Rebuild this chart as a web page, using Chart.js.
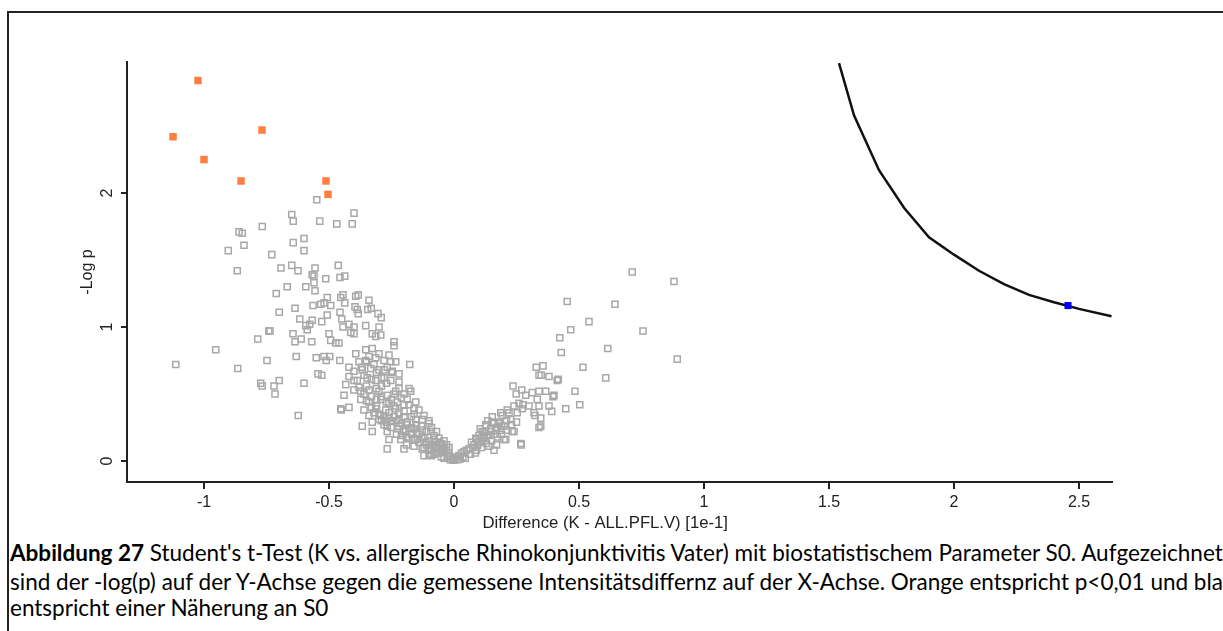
<!DOCTYPE html>
<html>
<head>
<meta charset="utf-8">
<script src="https://cdn.jsdelivr.net/npm/chart.js@4"></script>
<style>
  html, body { margin: 0; padding: 0; background: #fff; overflow: hidden; }
  body { width: 1223px; height: 631px; position: relative; }
  .frame-top { position: absolute; left: 7px; top: 11px; width: 1216px; height: 2px; background: #222; }
  .frame-left { position: absolute; left: 7px; top: 11px; width: 2px; height: 620px; background: #222; }
  #chart { position: absolute; left: 0; top: 0; }
  .cap { position: absolute; left: 10px; white-space: nowrap; font-family: Lato, "Open Sans", sans-serif;
         font-size: 22.5px; line-height: 28px; color: #000; }
</style>
</head>
<body>
<div class="frame-top"></div>
<div class="frame-left"></div>
<canvas id="chart" width="1223" height="535"></canvas>
<div class="cap" style="top:539px"><b>Abbildung 27</b> Student's t-Test (K vs. allergische Rhinokonjunktivitis Vater) mit biostatistischem Parameter S0. Aufgezeichnet</div>
<div class="cap" style="top:568px">sind der -log(p) auf der Y-Achse gegen die gemessene Intensitätsdiffernz auf der X-Achse. Orange entspricht p&lt;0,01 und blau</div>
<div class="cap" style="top:594px">entspricht einer Näherung an S0</div>
<script>
// tick values
const xTicks = [-1, -0.5, 0, 0.5, 1, 1.5, 2, 2.5];
const yTicks = [0, 1, 2];

// significant (p<0.01) points, [difference, -log p]
const orangePoints = [
  [-1.024, 2.84], [-1.124, 2.42], [-0.768, 2.47], [-1.0, 2.25],
  [-0.852, 2.09], [-0.512, 2.09], [-0.504, 1.99]
];

// point on the S0 curve
const bluePoint = [[2.456, 1.16]];

// S0 threshold curve
const s0CurveX = [1.54, 1.6, 1.7, 1.8, 1.9, 2.0, 2.1, 2.2, 2.3, 2.4, 2.5, 2.63];
const s0CurveY = [2.97, 2.58, 2.17, 1.89, 1.67, 1.54, 1.42, 1.32, 1.24, 1.185, 1.135, 1.08];

// all other proteins
const greyPoints = [
  [-0.549, 1.95], [-0.649, 1.84], [-0.643, 1.79], [-0.537, 1.79], [-0.469, 1.77], [-0.407, 1.77],
  [-0.40, 1.85], [-0.767, 1.75], [-0.86, 1.71], [-0.847, 1.70], [-0.84, 1.61], [-0.903, 1.57],
  [-0.643, 1.63], [-0.60, 1.66], [-0.60, 1.57], [-0.729, 1.54], [-0.867, 1.42], [-0.692, 1.44],
  [-0.649, 1.46], [-0.624, 1.42], [-0.556, 1.44], [-0.567, 1.39], [-0.56, 1.38], [-0.463, 1.46],
  [-0.513, 1.36], [-0.456, 1.37], [-0.437, 1.38], [-0.667, 1.30], [-0.593, 1.30], [-0.56, 1.33],
  [-0.556, 1.27], [-0.711, 1.25], [-0.507, 1.22], [-0.52, 1.18], [-0.444, 1.24], [-0.453, 1.22],
  [-0.393, 1.23], [-0.383, 1.24], [-0.34, 1.20], [-0.564, 1.16], [-0.533, 1.17], [-0.493, 1.16],
  [-0.437, 1.18], [-0.396, 1.15], [-0.387, 1.13], [-0.383, 1.10], [-0.345, 1.13], [-0.331, 1.14],
  [-0.304, 1.10], [-0.291, 1.07], [-0.636, 1.14], [-0.699, 1.11], [-0.617, 1.06], [-0.567, 1.05],
  [-0.529, 1.04], [-0.507, 1.09], [-0.456, 1.11], [-0.449, 1.06], [-0.444, 1.00], [-0.593, 1.01],
  [-0.577, 1.02], [-0.587, 0.98], [-0.42, 1.02], [-0.40, 1.00], [-0.413, 0.96], [-0.40, 0.95],
  [-0.353, 1.01], [-0.30, 1.00], [-0.741, 0.97], [-0.736, 0.97], [-0.785, 0.91], [-0.644, 0.95],
  [-0.636, 0.89], [-0.611, 0.91], [-0.569, 0.89], [-0.50, 0.95], [-0.493, 0.90], [-0.473, 0.88],
  [-0.46, 0.88], [-0.327, 0.95], [-0.313, 0.93], [-0.293, 0.94], [-0.24, 0.89], [-0.24, 0.86],
  [-0.953, 0.83], [-1.113, 0.72], [-0.748, 0.75], [-0.865, 0.69], [-0.631, 0.78], [-0.551, 0.77],
  [-0.52, 0.78], [-0.511, 0.75], [-0.497, 0.78], [-0.457, 0.75], [-0.177, 0.72], [-0.773, 0.58],
  [-0.767, 0.56], [-0.72, 0.56], [-0.716, 0.50], [-0.699, 0.60], [-0.60, 0.58], [-0.544, 0.65],
  [-0.529, 0.64], [-0.623, 0.34], [-0.451, 0.38], [-0.42, 0.40],
  [-0.393, 0.80], [-0.353, 0.83], [-0.327, 0.84], [-0.30, 0.80], [-0.42, 0.70], [-0.38, 0.74],
  [-0.353, 0.75], [-0.313, 0.77], [-0.28, 0.75], [-0.253, 0.74], [-0.233, 0.74],
  [-0.40, 0.67], [-0.367, 0.68], [-0.333, 0.69], [-0.30, 0.68], [-0.267, 0.70], [-0.247, 0.67],
  [-0.42, 0.63], [-0.387, 0.60], [-0.347, 0.62], [-0.313, 0.60], [-0.28, 0.62], [-0.253, 0.60],
  [-0.22, 0.59], [-0.433, 0.57], [-0.18, 0.54], [-0.173, 0.52],
  [-0.44, 0.49], [-0.40, 0.53], [-0.373, 0.52], [-0.34, 0.53], [-0.30, 0.52], [-0.267, 0.49],
  [-0.233, 0.52], [-0.20, 0.50], [-0.373, 0.46], [-0.34, 0.44], [-0.293, 0.46], [-0.26, 0.43],
  [-0.227, 0.44], [-0.187, 0.46], [-0.153, 0.44], [-0.453, 0.39], [-0.36, 0.38], [-0.313, 0.39],
  [-0.273, 0.38], [-0.233, 0.39], [-0.20, 0.37], [-0.16, 0.39],
  [-0.34, 0.34], [-0.293, 0.34], [-0.26, 0.32], [-0.22, 0.31], [-0.187, 0.29], [-0.153, 0.31],
  [-0.127, 0.31], [-0.10, 0.28], [-0.367, 0.26], [-0.327, 0.29], [-0.327, 0.22], [-0.267, 0.26],
  [-0.227, 0.24], [-0.193, 0.23], [-0.16, 0.24], [-0.127, 0.23], [-0.093, 0.22], [-0.267, 0.22],
  [-0.26, 0.16], [-0.267, 0.09], [-0.213, 0.16], [-0.18, 0.17], [-0.147, 0.16], [-0.113, 0.14],
  [-0.08, 0.16], [-0.20, 0.09], [-0.16, 0.11], [-0.127, 0.09], [-0.10, 0.05], [-0.073, 0.11],
  [-0.047, 0.08], [-0.027, 0.03], [-0.007, 0.01],
  [-0.06, 0.14], [-0.04, 0.09], [-0.02, 0.04], [0.0, 0.02], [0.02, 0.04], [0.04, 0.07],
  [0.06, 0.09], [0.08, 0.12], [0.087, 0.17], [0.10, 0.14], [0.12, 0.17], [0.113, 0.22],
  [0.127, 0.26], [0.14, 0.19], [0.147, 0.24], [0.153, 0.29], [0.16, 0.08], [0.173, 0.18],
  [0.18, 0.28], [0.187, 0.23], [0.193, 0.34], [0.20, 0.16], [0.213, 0.38], [0.22, 0.36],
  [0.227, 0.31], [0.233, 0.22], [0.24, 0.41], [0.253, 0.36], [0.267, 0.13], [0.26, 0.43],
  [0.236, 0.56], [0.271, 0.53], [0.249, 0.50], [0.287, 0.49], [0.30, 0.41], [0.32, 0.36],
  [0.313, 0.51], [0.333, 0.46], [0.34, 0.52], [0.34, 0.41], [0.347, 0.32], [0.367, 0.52],
  [0.38, 0.41], [0.40, 0.49], [0.34, 0.64], [0.38, 0.63], [0.413, 0.60],
  [0.713, 1.41], [0.88, 1.34], [0.453, 1.19], [0.644, 1.17], [0.54, 1.04], [0.467, 0.98],
  [0.423, 0.92], [0.756, 0.97], [0.615, 0.84], [0.429, 0.81], [0.516, 0.70], [0.607, 0.62],
  [0.893, 0.76], [0.329, 0.70], [0.356, 0.71], [0.349, 0.64], [0.417, 0.61], [0.396, 0.48],
  [0.484, 0.52], [0.447, 0.39], [0.503, 0.42], [0.276, 0.42], [0.273, 0.39], [0.324, 0.34],
  [0.391, 0.37], [0.34, 0.25], [0.347, 0.26], [0.187, 0.36], [0.269, 0.12],
  [0.153, 0.33], [0.16, 0.28], [0.18, 0.29], [0.167, 0.23], [0.127, 0.27], [0.10, 0.19],
  [0.12, 0.18], [0.24, 0.22], [0.207, 0.16],
  [-0.22, 0.36], [-0.20, 0.33], [-0.19, 0.27], [-0.17, 0.25], [-0.17, 0.33], [-0.15, 0.27],
  [-0.14, 0.20], [-0.13, 0.26], [-0.12, 0.17], [-0.11, 0.22], [-0.10, 0.15], [-0.09, 0.12],
  [-0.08, 0.19], [-0.08, 0.10], [-0.07, 0.06], [-0.06, 0.09], [-0.05, 0.13], [-0.05, 0.03],
  [-0.04, 0.02], [-0.03, 0.08], [-0.02, 0.06], [-0.015, 0.01], [0.0, 0.005], [0.005, 0.03],
  [0.015, 0.01], [0.025, 0.015], [0.035, 0.03], [0.045, 0.02], [0.05, 0.08], [0.065, 0.05],
  [0.075, 0.10], [0.09, 0.08], [0.095, 0.12], [0.11, 0.10], [0.13, 0.13], [0.14, 0.11],
  [0.15, 0.15], [0.17, 0.12], [0.19, 0.20], [0.21, 0.23], [0.23, 0.27], [0.25, 0.29],
  [0.20, 0.26], [0.16, 0.20], [0.12, 0.21], [0.105, 0.24], [0.135, 0.30], [-0.25, 0.30],
  [-0.24, 0.41], [-0.21, 0.47], [-0.18, 0.42], [-0.16, 0.35], [-0.23, 0.20], [-0.21, 0.19],
  [-0.19, 0.12], [-0.12, 0.04], [-0.09, 0.04], [-0.28, 0.27], [-0.30, 0.31], [-0.31, 0.41],
  [-0.29, 0.56], [-0.27, 0.58], [-0.25, 0.66], [-0.22, 0.65], [-0.26, 0.79], [-0.28, 0.68],
  [-0.32, 0.72], [-0.34, 0.78], [-0.36, 0.64], [-0.38, 0.55], [-0.40, 0.60], [-0.35, 0.56],
  [-0.33, 0.48], [-0.31, 0.54], [-0.22, 0.54], [-0.20, 0.42], [-0.14, 0.38], [-0.12, 0.34],
  [-0.10, 0.30], [-0.09, 0.25], [-0.07, 0.22], [-0.06, 0.17], [-0.04, 0.15], [-0.03, 0.12],
  [-0.02, 0.10],
  [-0.36, 0.50], [-0.35, 0.45], [-0.33, 0.40], [-0.32, 0.36], [-0.30, 0.35], [-0.29, 0.30],
  [-0.28, 0.33], [-0.27, 0.29], [-0.26, 0.36], [-0.25, 0.25], [-0.24, 0.33], [-0.23, 0.30],
  [-0.22, 0.26], [-0.21, 0.28], [-0.20, 0.22], [-0.19, 0.18], [-0.18, 0.24], [-0.17, 0.20],
  [-0.16, 0.16], [-0.15, 0.21], [-0.14, 0.14], [-0.13, 0.17], [-0.12, 0.10], [-0.11, 0.12],
  [-0.10, 0.08], [-0.09, 0.09], [-0.08, 0.05], [-0.07, 0.14], [-0.06, 0.06], [-0.05, 0.07],
  [-0.31, 0.46], [-0.29, 0.48], [-0.27, 0.44], [-0.25, 0.46], [-0.24, 0.50], [-0.29, 0.62],
  [-0.31, 0.66], [-0.33, 0.61], [-0.37, 0.70], [-0.35, 0.74],
  [0.07, 0.14], [0.09, 0.16], [0.11, 0.15], [0.13, 0.19], [0.15, 0.22], [0.17, 0.25],
  [0.19, 0.26], [0.21, 0.30], [0.085, 0.06], [0.03, 0.06]
];

const toXY = arr => arr.map(p => ({ x: p[0], y: p[1] }));

// rotated y tick labels and the x title, placed like the original plot
const axisText = {
  id: 'axisText',
  afterDraw(chart) {
    const { ctx, scales: { x, y } } = chart;
    ctx.save();
    ctx.font = '16px "Liberation Sans", Arial, sans-serif';
    ctx.fillStyle = '#222';
    ctx.textAlign = 'center';
    ctx.textBaseline = 'middle';
    yTicks.forEach(v => {
      ctx.save();
      ctx.translate(y.right - 19, y.getPixelForValue(v));
      ctx.rotate(-Math.PI / 2);
      ctx.fillText(String(v), 0, 0);
      ctx.restore();
    });
    ctx.font = '16.7px "Liberation Sans", Arial, sans-serif';
    ctx.fillText('Difference (K - ALL.PFL.V) [1e-1]', x.getPixelForValue(0.605), x.bottom - 12);
    ctx.restore();
  }
};

const axisFont = { family: '"Liberation Sans", Arial, sans-serif', size: 16 };

new Chart(document.getElementById('chart'), {
  type: 'scatter',
  data: {
    datasets: [
      {
        data: toXY(bluePoint), order: 0,
        pointStyle: 'rect', pointRadius: 5, backgroundColor: '#0000ff', borderWidth: 0
      },
      {
        type: 'line',
        data: s0CurveX.map((x, i) => ({ x, y: s0CurveY[i] })), order: 1,
        borderColor: '#111', borderWidth: 2.5, pointRadius: 0, tension: 0, fill: false
      },
      {
        data: toXY(orangePoints), order: 2,
        pointStyle: 'rect', pointRadius: 5.3, backgroundColor: '#ff7f40', borderWidth: 0
      },
      {
        data: toXY(greyPoints), order: 3,
        pointStyle: 'rect', pointRadius: 4.3, backgroundColor: 'rgba(255,255,255,0)',
        borderColor: '#a8a8a8', borderWidth: 1.5
      }
    ]
  },
  options: {
    responsive: false,
    animation: false,
    layout: { padding: { top: 62, right: 111, left: 0, bottom: 0 } },
    plugins: { legend: { display: false }, tooltip: { enabled: false } },
    scales: {
      x: {
        type: 'linear', min: -1.308, max: 2.632,
        afterFit: s => { s.height = 53; },
        afterBuildTicks: s => { s.ticks = xTicks.map(v => ({ value: v })); },
        border: { display: true, color: '#222', width: 2 },
        grid: { drawOnChartArea: false, drawTicks: true, tickLength: 7, color: '#222', lineWidth: 2 },
        ticks: { color: '#222', font: axisFont, padding: 4, maxRotation: 0, callback: v => String(v) },
        title: { display: false }
      },
      y: {
        type: 'linear', min: -0.157, max: 2.978,
        afterFit: s => { s.width = 127; },
        afterBuildTicks: s => { s.ticks = yTicks.map(v => ({ value: v })); },
        border: { display: true, color: '#222', width: 2 },
        grid: { drawOnChartArea: false, drawTicks: true, tickLength: 6, color: '#222', lineWidth: 2 },
        ticks: { callback: () => '' },
        title: { display: true, text: '-Log p', color: '#222', font: axisFont, padding: { top: 78, bottom: 0 } }
      }
    }
  },
  plugins: [axisText]
});
</script>
</body>
</html>
